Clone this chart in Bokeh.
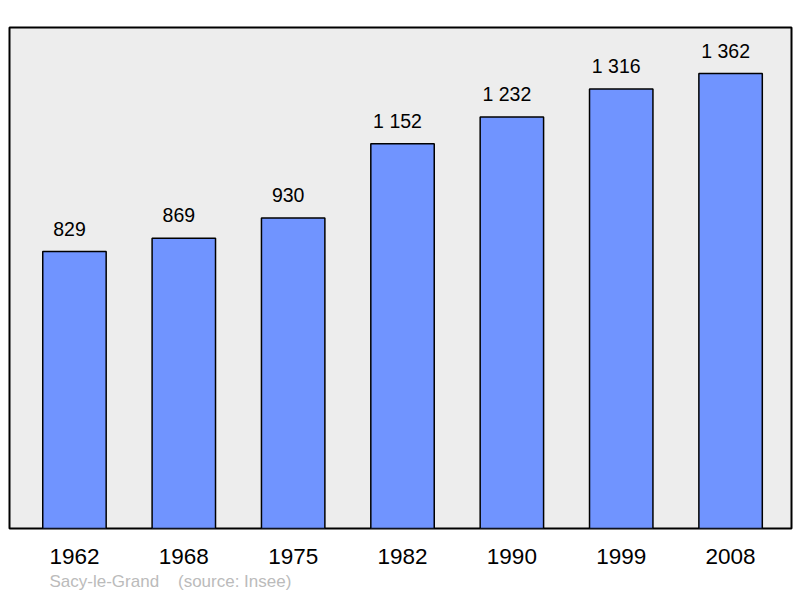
from bokeh.plotting import figure
from bokeh.models import FixedTicker, Range1d, Title
from bokeh.core.properties import value
from bokeh.embed import file_html
from bokeh.resources import INLINE

years = ["1962", "1968", "1975", "1982", "1990", "1999", "2008"]
population = [829, 869, 930, 1152, 1232, 1316, 1362]
labels = ["{:,}".format(v).replace(",", " ") for v in population]
town = "Sacy-le-Grand"
source = "(source: Insee)"

idx = list(range(len(years)))

p = figure(width=800, height=598, output_backend="svg", toolbar_location=None,
           x_range=Range1d(-0.594, 6.557), y_range=Range1d(0, 1500),
           min_border_left=9, min_border_right=9, min_border_top=27, min_border_bottom=70)
p.background_fill_color = "#EDEDED"
p.border_fill_color = "white"
p.outline_line_color = "black"
p.outline_line_width = 2
p.xgrid.visible = False
p.ygrid.visible = False
p.yaxis.visible = False

p.vbar(x=idx, top=population, bottom=0, width=0.58, fill_color="#7094FF",
       line_color="black", line_width=1.5)
p.text(x=idx, y=population, text=labels, text_align="center", text_baseline="alphabetic",
       x_offset=-5, y_offset=-23, text_font=value("Liberation Sans"), text_font_size="19.5px",
       text_color="black")

ax = p.xaxis[0]
ax.ticker = FixedTicker(ticks=idx)
ax.major_label_overrides = {i: y for i, y in zip(idx, years)}
ax.axis_line_color = None
ax.major_tick_line_color = None
ax.minor_tick_line_color = None
ax.major_tick_out = 0
ax.major_label_standoff = 20
ax.major_label_text_font = "Liberation Sans"
ax.major_label_text_font_size = "22.5px"
ax.major_label_text_color = "black"

note = town + "\u00a0" * 4 + source
p.add_layout(Title(text=note, align="left", offset=40, standoff=7,
                   text_font="Liberation Sans", text_font_size="17px",
                   text_font_style="normal", text_color="#BBBBBB"), "below")

open("out.html", "w").write(file_html(p, INLINE))
